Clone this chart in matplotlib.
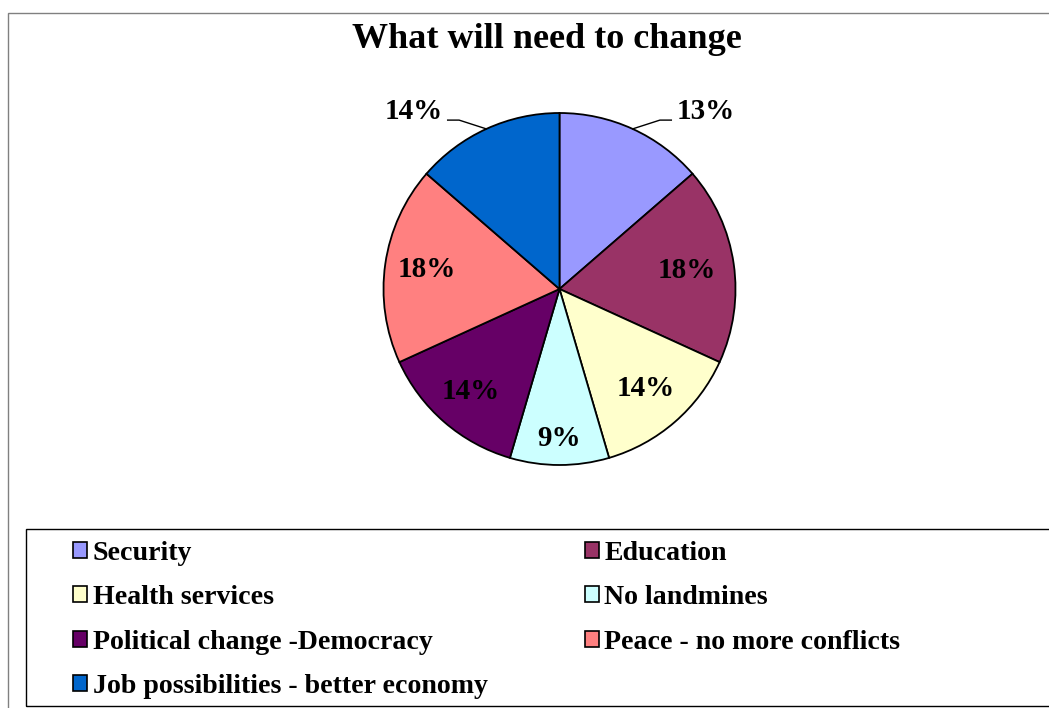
import matplotlib
matplotlib.use("Agg")
import matplotlib.pyplot as plt
from matplotlib.patches import Rectangle, Patch
import numpy as np

# data (counts out of 22 responses)
categories = ["Security", "Education", "Health services", "No landmines",
              "Political change -Democracy", "Peace - no more conflicts",
              "Job possibilities - better economy"]
counts = [3, 4, 3, 2, 3, 4, 3]
pct_labels = ["13%", "18%", "14%", "9%", "14%", "18%", "14%"]
colors = ["#9999FF", "#993366", "#FFFFCC", "#CCFFFF", "#660066", "#FF8080", "#0066CC"]

# radial spot for labels inside the pie, None = outside with a leader line
label_r = [None, 0.73, 0.75, 0.85, 0.77, 0.76, None]

plt.rcParams['font.family'] = ['Liberation Serif', 'DejaVu Serif']
plt.rcParams['font.weight'] = 'bold'

W, H = 1049, 708
fig = plt.figure(figsize=(W / 100, H / 100), dpi=100)

# outer chart frame and legend box
fig.add_artist(Rectangle((8 / W, -0.1), 1.2, (H - 13) / H + 0.1, transform=fig.transFigure,
                         fill=False, edgecolor='#808080', linewidth=1))
fig.add_artist(Rectangle((26 / W, (H - 706) / H), 1.2, (706 - 529) / H, transform=fig.transFigure,
                         fill=False, edgecolor='black', linewidth=1))

fig.text(547 / W, (H - 40) / H, "What will need to change", ha='center', va='center',
         fontsize=26, fontweight='bold')

cx, cy, R = 559.5, 289, 176
ax = fig.add_axes([(cx - R) / W, (H - cy - R) / H, 2 * R / W, 2 * R / H])
wedges, _ = ax.pie(counts, colors=colors, startangle=90, counterclock=False, radius=1,
                   wedgeprops=dict(edgecolor='black', linewidth=1.3))
ax.set_xlim(-1, 1)
ax.set_ylim(-1, 1)
ax.axis('off')

for w, lab, r in zip(wedges, pct_labels, label_r):
    mid = np.deg2rad((w.theta1 + w.theta2) / 2)
    if r is not None:
        ax.text(r * np.cos(mid), r * np.sin(mid), lab, ha='center', va='center',
                fontsize=21, fontweight='bold')
    else:
        s = np.sign(np.cos(mid))
        ex, ey = np.cos(mid), np.sin(mid)
        bx, by = ex + s * 0.155, ey + 0.05
        tx = bx + s * 0.065
        ax.plot([ex, bx, tx], [ey, by, by], color='black', linewidth=1, clip_on=False)
        ax.text(tx + s * 0.03, by + 0.05, lab, ha='left' if s > 0 else 'right', va='center',
                fontsize=21, fontweight='bold')

# legend, row-major order like the reference
handles = [Patch(facecolor=c, edgecolor='black', linewidth=1.2) for c in colors]
order = [0, 2, 4, 6, 1, 3, 5]
fig.legend([handles[i] for i in order], [categories[i] for i in order], ncol=2,
           loc='upper left', bbox_to_anchor=(73 / W, (H - 541) / H), frameon=False,
           borderpad=0, borderaxespad=0, handlelength=0.5, handleheight=0.5,
           handletextpad=0.2, columnspacing=3.48, labelspacing=0.69,
           prop=dict(family='Liberation Serif', weight='bold', size=20.1))

fig.savefig("out.png", dpi=100)
